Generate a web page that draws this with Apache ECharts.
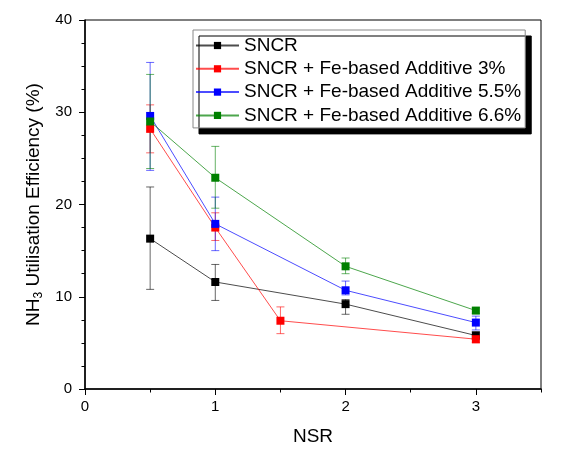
<!DOCTYPE html>
<html>
<head>
<meta charset="utf-8">
<script src="https://cdn.jsdelivr.net/npm/echarts@6/dist/echarts.min.js"></script>
<style>
  html, body { margin: 0; padding: 0; background: #fff; }
  #main { width: 574px; height: 458px; }
</style>
</head>
<body>
<div id="main"></div>
<script>
// values
var seriesNames = ['SNCR', 'SNCR + Fe-based Additive 3%', 'SNCR + Fe-based Additive 5.5%', 'SNCR + Fe-based Additive 6.6%'];
var seriesColors = ['#000000', '#ff0000', '#0000ff', '#008000'];

var sncrX = [0.5, 1, 2, 3];
var sncrY = [16.3, 11.6, 9.2, 5.8];
var sncrLow = [10.8, 9.6, 8.1, 5.4];
var sncrHigh = [21.9, 13.5, 9.7, 6.2];

var fe3X = [0.5, 1, 1.5, 3];
var fe3Y = [28.2, 17.5, 7.4, 5.4];
var fe3Low = [25.6, 16.1, 6.0, 5.0];
var fe3High = [30.8, 19.1, 8.9, 5.8];

var fe55X = [0.5, 1, 2, 3];
var fe55Y = [29.6, 17.9, 10.7, 7.2];
var fe55Low = [23.7, 15.0, 10.2, 6.4];
var fe55High = [35.4, 20.8, 11.7, 7.9];

var fe66X = [0.5, 1, 2, 3];
var fe66Y = [29.0, 22.9, 13.3, 8.5];
var fe66Low = [23.9, 19.6, 12.5, 8.2];
var fe66High = [34.1, 26.3, 14.2, 8.8];

var xTicks = [0, 1, 2, 3];
var yTicks = [0, 10, 20, 30, 40];

var allX = [sncrX, fe3X, fe55X, fe66X];
var allY = [sncrY, fe3Y, fe55Y, fe66Y];
var allLow = [sncrLow, fe3Low, fe55Low, fe66Low];
var allHigh = [sncrHigh, fe3High, fe55High, fe66High];

var font = 'Liberation Sans, Arial, sans-serif';

function pairs(xs, ys) {
    var out = [];
    for (var i = 0; i < xs.length; i++) out.push([xs[i], ys[i]]);
    return out;
}
function errData(xs, lo, hi) {
    var out = [];
    for (var i = 0; i < xs.length; i++) out.push([xs[i], lo[i], hi[i]]);
    return out;
}

// error bar drawing
function errorBarRender(color) {
    return function (params, api) {
        var top = api.coord([api.value(0), api.value(2)]);
        var bot = api.coord([api.value(0), api.value(1)]);
        var half = 4;
        var st = { stroke: color, lineWidth: 1, opacity: 0.6 };
        return {
            type: 'group',
            children: [
                { type: 'line', shape: { x1: top[0], y1: top[1], x2: bot[0], y2: bot[1] }, style: st },
                { type: 'line', shape: { x1: top[0] - half, y1: top[1], x2: top[0] + half, y2: top[1] }, style: st },
                { type: 'line', shape: { x1: bot[0] - half, y1: bot[1], x2: bot[0] + half, y2: bot[1] }, style: st }
            ]
        };
    };
}

var series = [];
for (var s = 0; s < 4; s++) {
    series.push({
        type: 'custom',
        name: seriesNames[s] + ' err',
        xAxisIndex: 0,
        yAxisIndex: 0,
        renderItem: errorBarRender(seriesColors[s]),
        data: errData(allX[s], allLow[s], allHigh[s]),
        encode: { x: 0, y: [1, 2] },
        z: 2,
        silent: true
    });
}
for (var s = 0; s < 4; s++) {
    series.push({
        type: 'line',
        name: seriesNames[s],
        xAxisIndex: 0,
        yAxisIndex: 0,
        data: pairs(allX[s], allY[s]),
        symbol: 'rect',
        symbolSize: 8,
        showAllSymbol: true,
        color: seriesColors[s],
        lineStyle: { width: 1, color: seriesColors[s], opacity: 0.7 },
        itemStyle: { color: seriesColors[s] },
        z: 3
    });
}

var myChart = echarts.init(document.getElementById('main'));
var option = {
    backgroundColor: '#fff',
    animation: false,
    grid: {
        left: 85, right: 33, top: 20, bottom: 69,
        show: true, borderColor: '#000', borderWidth: 1, backgroundColor: 'transparent'
    },
    legend: {
        data: seriesNames,
        orient: 'vertical',
        left: 193,
        top: 30,
        padding: [6, 4, 3, 2],
        itemWidth: 43,
        itemHeight: 9,
        itemGap: 4.3,
        backgroundColor: '#fff',
        borderColor: '#888',
        borderWidth: 1,
        shadowColor: '#000',
        shadowBlur: 0,
        shadowOffsetX: 6,
        shadowOffsetY: 6,
        textStyle: { fontFamily: font, fontSize: 19, color: '#000', lineHeight: 19 }
    },
    xAxis: [{
        type: 'value',
        min: 0, max: 3.5, interval: 1,
        position: 'bottom',
        name: 'NSR',
        nameLocation: 'middle',
        nameGap: 38,
        nameTextStyle: { fontFamily: font, fontSize: 19, color: '#000' },
        axisLine: { lineStyle: { color: '#000', width: 1.5 } },
        axisTick: { show: true, length: 6, lineStyle: { color: '#000', width: 1 }, customValues: xTicks },
        axisLabel: { fontFamily: font, fontSize: 15, color: '#000', margin: 10, customValues: xTicks },
        splitLine: { show: false }
    }, {
        type: 'value',
        min: 0, max: 3.5, interval: 0.5,
        position: 'bottom',
        axisLine: { show: false },
        axisTick: { show: true, length: 3.5, lineStyle: { color: '#000', width: 1 } },
        axisLabel: { show: false },
        splitLine: { show: false }
    }],
    yAxis: [{
        type: 'value',
        min: 0, max: 40, interval: 10,
        position: 'left',
        name: 'NH{sub|3} Utilisation Efficiency (%)',
        nameLocation: 'middle',
        nameGap: 37,
        nameTextStyle: {
            fontFamily: font, fontSize: 19, color: '#000',
            rich: { sub: { fontFamily: font, fontSize: 12, color: '#000', padding: [9, 0, 0, 0] } }
        },
        axisLine: { lineStyle: { color: '#000', width: 1.5 } },
        axisTick: { show: true, length: 6, lineStyle: { color: '#000', width: 1 } },
        axisLabel: { fontFamily: font, fontSize: 15, color: '#000', margin: 13 },
        splitLine: { show: false }
    }, {
        type: 'value',
        min: 0, max: 40, interval: 2.5,
        position: 'left',
        axisLine: { show: false },
        axisTick: { show: true, length: 3.5, lineStyle: { color: '#000', width: 1 } },
        axisLabel: { show: false },
        splitLine: { show: false }
    }],
    series: series
};
myChart.setOption(option);
</script>
</body>
</html>
